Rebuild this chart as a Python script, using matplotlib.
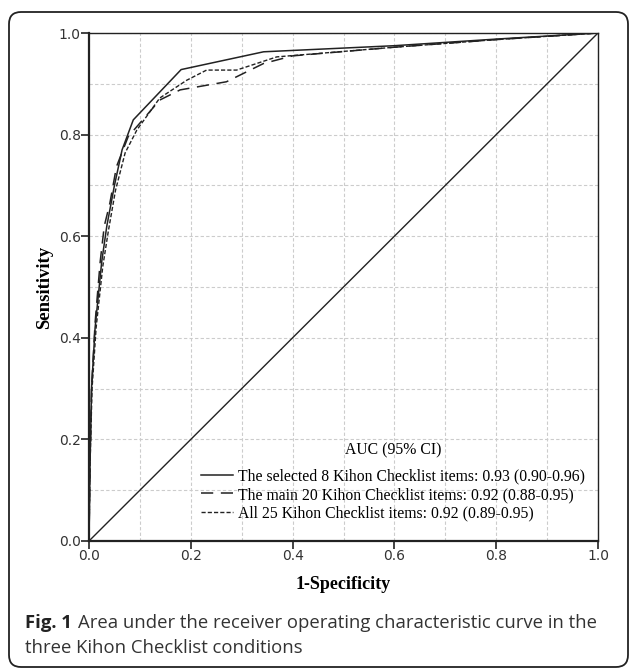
import numpy as np
import matplotlib.pyplot as plt
from matplotlib.patches import FancyBboxPatch

# ROC curve points (1-specificity, sensitivity)
fpr_sel8 = [0.0, 0.002, 0.005, 0.012, 0.025, 0.035, 0.05, 0.065, 0.087, 0.181, 0.343, 0.6, 0.8, 1.0]
sens_sel8 = [0.0, 0.15, 0.30, 0.42, 0.55, 0.62, 0.70, 0.77, 0.829, 0.928, 0.963, 0.975, 0.988, 1.0]

fpr_main20 = [0.0, 0.002, 0.005, 0.012, 0.022, 0.03, 0.041, 0.054, 0.077, 0.139, 0.179, 0.27, 0.343, 0.4, 0.6, 0.8, 1.0]
sens_main20 = [0.0, 0.15, 0.30, 0.43, 0.55, 0.62, 0.665, 0.737, 0.796, 0.868, 0.888, 0.904, 0.94, 0.955, 0.972, 0.987, 1.0]

fpr_all25 = [0.0, 0.002, 0.006, 0.014, 0.027, 0.038, 0.052, 0.071, 0.094, 0.139, 0.192, 0.231, 0.29, 0.369, 0.6, 0.8, 1.0]
sens_all25 = [0.0, 0.15, 0.30, 0.42, 0.54, 0.61, 0.69, 0.764, 0.809, 0.872, 0.907, 0.927, 0.927, 0.953, 0.972, 0.987, 1.0]

labels = ["The selected 8 Kihon Checklist items: 0.93 (0.90-0.96)",
          "The main 20 Kihon Checklist items: 0.92 (0.88-0.95)",
          "All 25 Kihon Checklist items: 0.92 (0.89-0.95)"]
legend_title = "AUC (95% CI)"
caption_bold = "Fig. 1"
caption_rest = "Area under the receiver operating characteristic curve in the"
caption_line2 = "three Kihon Checklist conditions"

W, H = 630, 670
fig = plt.figure(figsize=(W / 100, H / 100), dpi=100)

# rounded outer frame (pixel coords)
frame = FancyBboxPatch((9, 3), 619, 655, boxstyle="round,pad=0,rounding_size=12",
                       transform=None, fill=False, edgecolor="#222222", linewidth=1.3)
fig.patches.append(frame)

ax = fig.add_axes([89 / W, (H - 541) / H, 509 / W, 508 / H])

ax.plot(fpr_sel8, sens_sel8, color="#222222", lw=1.1, label=labels[0])
ax.plot(fpr_main20, sens_main20, color="#222222", lw=1.1, dashes=(8, 5), label=labels[1])
ax.plot(fpr_all25, sens_all25, color="#222222", lw=1.0, dashes=(3, 1.5), label=labels[2])
ax.plot([0, 1], [0, 1], color="#222222", lw=1.0)

ax.set_xlim(0, 1)
ax.set_ylim(0, 1)
ax.set_xticks(np.arange(0, 1.01, 0.2))
ax.set_yticks(np.arange(0, 1.01, 0.2))
ax.set_xticks(np.arange(0.1, 1.0, 0.2), minor=True)
ax.set_yticks(np.arange(0.1, 1.0, 0.2), minor=True)
ax.tick_params(which="minor", length=0)
ax.tick_params(which="major", length=6, width=1.2, direction="out", color="#222222",
               labelsize=10, labelcolor="#333333", pad=0)
ax.grid(True, which="both", color="#cccccc", lw=0.8, dashes=(3, 2))
ax.set_axisbelow(True)
for s in ["left", "bottom"]:
    ax.spines[s].set_linewidth(1.6)
for s in ["top", "right"]:
    ax.spines[s].set_linewidth(1.0)
for s in ax.spines.values():
    s.set_color("#222222")

ax.set_xlabel("1-Specificity", family="Liberation Serif", fontweight="bold", fontsize=13, labelpad=9)
ax.set_ylabel("Sensitivity", family="Liberation Serif", fontweight="bold", fontsize=13.5, labelpad=4)

leg = ax.legend(loc="lower center", bbox_to_anchor=(0.598, 0.01), frameon=False,
                title=legend_title, prop={"family": "Liberation Serif", "size": 11.3},
                handlelength=2.0, handletextpad=0.35, labelspacing=0.18)
leg.get_title().set_family("Liberation Serif")
leg.get_title().set_fontsize(11.3)
leg._legend_box.sep = 7

# caption: bold "Fig. 1" followed by regular text
t1 = fig.text(25 / W, 1 - 623 / H, caption_bold, fontsize=13.3, family="Open Sans", fontweight="bold",
              va="center", color="#222222")
fig.canvas.draw()
bb = t1.get_window_extent()
fig.text((bb.x1 + 6) / W, 1 - 623 / H, caption_rest, fontsize=13.3, family="Open Sans",
         va="center", color="#333333")
fig.text(25 / W, 1 - 648 / H, caption_line2, fontsize=13.3, family="Open Sans",
         va="center", color="#333333")

fig.savefig("out.png", dpi=100)
